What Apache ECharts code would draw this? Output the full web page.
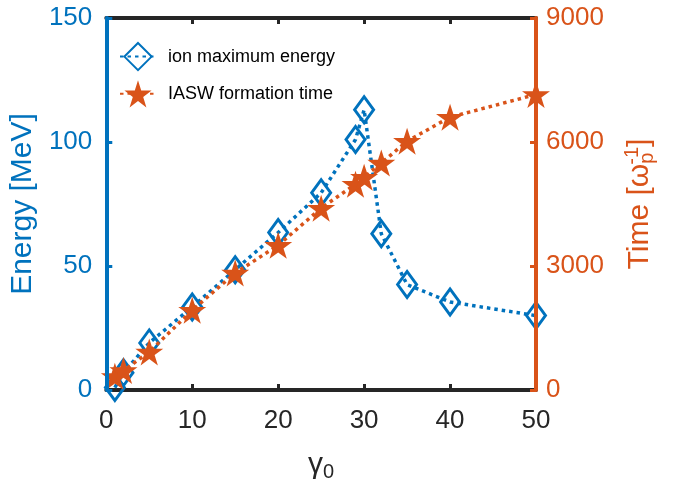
<!DOCTYPE html>
<html>
<head>
<meta charset="utf-8">
<script src="https://cdn.jsdelivr.net/npm/echarts@6/dist/echarts.min.js"></script>
<style>
html,body{margin:0;padding:0;background:#fff;}
#chart{width:681px;height:491px;}
</style>
</head>
<body>
<div id="chart"></div>
<script>
var gammaValues = [1, 2, 5, 10, 15, 20, 25, 29, 30, 32, 35, 40, 50];
var energyValues = [1, 7, 19, 33.5, 48.5, 63.5, 79.5, 101, 113, 63, 42.5, 35.5, 30];
var timeValues = [330, 470, 920, 1930, 2830, 3500, 4400, 4980, 5150, 5490, 6020, 6600, 7150];
var xTicks = [0, 10, 20, 30, 40, 50];
var energyTicks = [0, 50, 100, 150];
var timeTicks = [0, 3000, 6000, 9000];

var BLUE = '#0072BD', ORANGE = '#D95319', DARK = '#262626';
var FONT = '"Liberation Sans", Arial, sans-serif';
var STAR = 'path://M50,0 L61.8,36.2 L100,36.2 L69.1,58.5 L80.9,95 L50,72.4 L19.1,95 L30.9,58.5 L0,36.2 L38.2,36.2 Z';

function pairs(xs, ys){ return xs.map(function(x,i){ return [x, ys[i]]; }); }
function plain(v){ return String(v); }

var chart = echarts.init(document.getElementById('chart'), null, {renderer:'canvas'});
chart.setOption({
  animation: false,
  backgroundColor: '#fff',
  grid: {left: 106, right: 145, top: 18, bottom: 101, containLabel: false},
  legend: {
    orient: 'vertical', left: 114, top: 37, itemGap: 9, itemWidth: 36, itemHeight: 34,
    textStyle: {fontFamily: FONT, fontSize: 18, color: '#000', padding: [0,0,0,7]},
    data: ['ion maximum energy', 'IASW formation time']
  },
  xAxis: [{
    type: 'value', min: 0, max: 50, interval: 10, position: 'bottom',
    name: '{g|γ}{s|0}', nameLocation: 'middle', nameGap: 58,
    nameTextStyle: {rich: {g: {fontFamily: FONT, fontSize: 30, color: DARK}, s: {fontFamily: FONT, fontSize: 20, color: DARK, verticalAlign: 'bottom', padding: [14,0,0,0]}}},
    axisLine: {show: true, onZero: false, lineStyle: {color: DARK, width: 4}},
    axisTick: {show: true, inside: true, length: 6, lineStyle: {color: DARK, width: 3}},
    axisLabel: {fontFamily: FONT, fontSize: 26, color: DARK, margin: 18, formatter: plain},
    splitLine: {show: false}
  }, {
    type: 'value', min: 0, max: 50, interval: 10, position: 'top',
    axisLine: {show: true, onZero: false, lineStyle: {color: DARK, width: 4}},
    axisTick: {show: true, inside: true, length: 6, lineStyle: {color: DARK, width: 3}},
    axisLabel: {show: false}, splitLine: {show: false}
  }],
  yAxis: [{
    type: 'value', min: 0, max: 150, interval: 50, position: 'left',
    name: 'Energy [MeV]', nameLocation: 'middle', nameGap: 62, nameRotate: 90,
    nameTextStyle: {fontFamily: FONT, fontSize: 30, color: BLUE},
    axisLine: {show: true, onZero: false, lineStyle: {color: BLUE, width: 4}},
    axisTick: {show: true, inside: true, length: 6, lineStyle: {color: BLUE, width: 3}},
    axisLabel: {fontFamily: FONT, fontSize: 26, color: BLUE, margin: 14, formatter: plain},
    splitLine: {show: false}, z: 5
  }, {
    type: 'value', min: 0, max: 9000, interval: 3000, position: 'right',
    name: '{t|Time [ω}{s|p}{u|-1}{t|]}', nameLocation: 'middle', nameGap: 86, nameRotate: 90,
    nameTextStyle: {rich: {
      t: {fontFamily: FONT, fontSize: 30, color: ORANGE},
      s: {fontFamily: FONT, fontSize: 20, color: ORANGE, padding: [14,0,0,0]},
      u: {fontFamily: FONT, fontSize: 20, color: ORANGE, padding: [0,0,16,-12]}
    }},
    axisLine: {show: true, onZero: false, lineStyle: {color: ORANGE, width: 4}},
    axisTick: {show: true, inside: true, length: 6, lineStyle: {color: ORANGE, width: 3}},
    axisLabel: {fontFamily: FONT, fontSize: 26, color: ORANGE, margin: 10, formatter: plain},
    splitLine: {show: false}, z: 5
  }],
  series: [{
    name: 'ion maximum energy', type: 'line', xAxisIndex: 0, yAxisIndex: 0,
    data: pairs(gammaValues, energyValues),
    symbol: 'diamond', symbolSize: [19, 26],
    itemStyle: {color: 'rgba(255,255,255,0)', borderColor: BLUE, borderWidth: 3},
    lineStyle: {color: BLUE, width: 3.5, type: [3.5, 4]},
    color: BLUE, z: 3
  }, {
    name: 'IASW formation time', type: 'line', xAxisIndex: 0, yAxisIndex: 1,
    data: pairs(gammaValues, timeValues),
    symbol: STAR, symbolSize: [28, 27],
    itemStyle: {color: ORANGE, borderWidth: 0},
    lineStyle: {color: ORANGE, width: 3.5, type: [3.5, 4]},
    color: ORANGE, z: 4
  }]
});
</script>
</body>
</html>
